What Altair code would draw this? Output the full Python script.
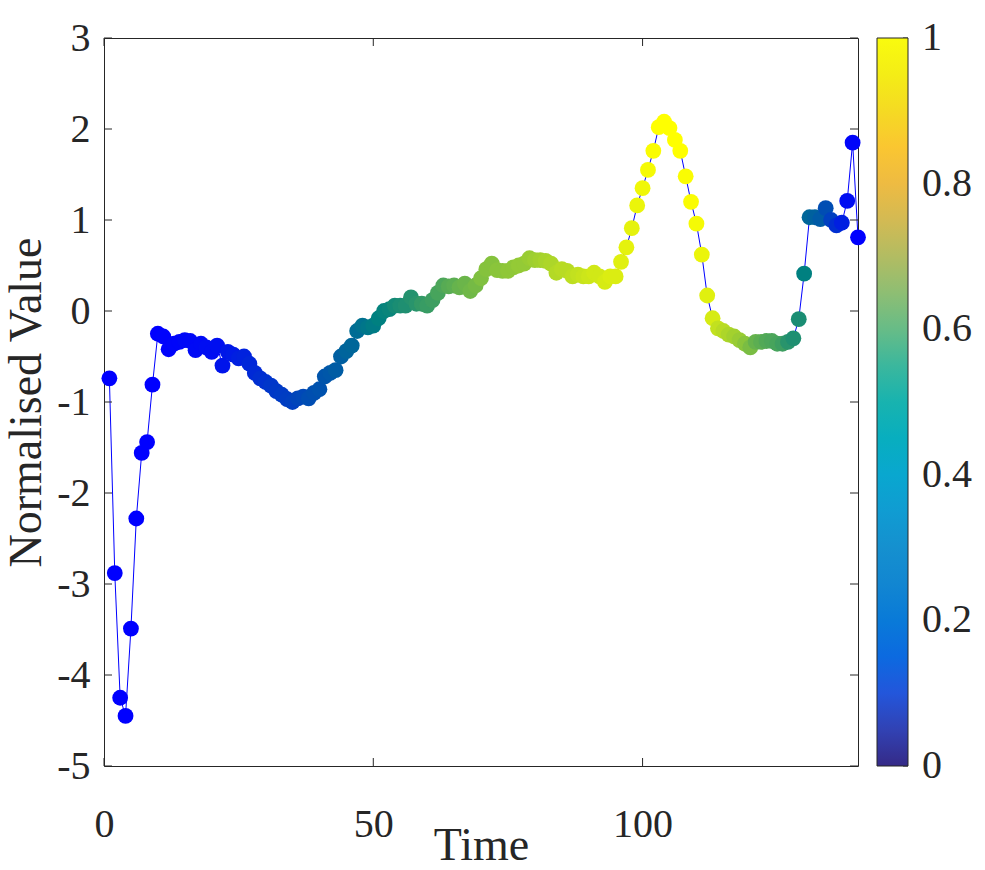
import altair as alt
import pandas as pd

# Time index of each observation
time = list(range(1, 141))

# Normalised observation at each time step
value = [
    -0.74, -2.88, -4.25, -4.45, -3.49, -2.28, -1.56, -1.44, -0.81, -0.25,
    -0.28, -0.42, -0.36, -0.34, -0.32, -0.33, -0.43, -0.36, -0.40, -0.45,
    -0.38, -0.60, -0.45, -0.48, -0.52, -0.50, -0.58, -0.68, -0.74, -0.78,
    -0.82, -0.88, -0.92, -0.97, -1.00, -0.96, -0.94, -0.96, -0.90, -0.86,
    -0.72, -0.68, -0.65, -0.50, -0.44, -0.38, -0.22, -0.16, -0.18, -0.16,
    -0.08, 0.00, 0.02, 0.06, 0.06, 0.06, 0.15, 0.08, 0.08, 0.06,
    0.12, 0.20, 0.28, 0.27, 0.28, 0.26, 0.30, 0.22, 0.28, 0.36,
    0.46, 0.52, 0.45, 0.44, 0.44, 0.48, 0.50, 0.52, 0.58, 0.56,
    0.56, 0.55, 0.52, 0.42, 0.46, 0.44, 0.38, 0.40, 0.38, 0.38,
    0.42, 0.38, 0.32, 0.38, 0.38, 0.54, 0.70, 0.91, 1.16, 1.35,
    1.55, 1.76, 2.02, 2.08, 2.01, 1.88, 1.76, 1.48, 1.20, 0.96,
    0.62, 0.17, -0.08, -0.19, -0.22, -0.26, -0.28, -0.32, -0.36, -0.40,
    -0.34, -0.34, -0.33, -0.33, -0.36, -0.36, -0.34, -0.30, -0.09, 0.41,
    1.03, 1.03, 1.01, 1.13, 1.00, 0.94, 0.97, 1.21, 1.85, 0.81,
]

# Per-point level in [0, 1] that sets each marker's colour
level = [
    0.00, 0.00, 0.00, 0.00, 0.00, 0.00, 0.00, 0.00, 0.00, 0.00,
    0.01, 0.01, 0.02, 0.02, 0.03, 0.03, 0.04, 0.04, 0.05, 0.05,
    0.06, 0.08, 0.09, 0.10, 0.12, 0.13, 0.15, 0.16, 0.18, 0.19,
    0.21, 0.22, 0.23, 0.24, 0.25, 0.27, 0.28, 0.30, 0.31, 0.32,
    0.33, 0.34, 0.36, 0.37, 0.39, 0.40, 0.42, 0.44, 0.46, 0.48,
    0.50, 0.51, 0.52, 0.54, 0.55, 0.56, 0.57, 0.58, 0.60, 0.61,
    0.62, 0.64, 0.65, 0.67, 0.68, 0.70, 0.71, 0.72, 0.73, 0.75,
    0.76, 0.76, 0.77, 0.77, 0.78, 0.78, 0.79, 0.79, 0.80, 0.81,
    0.82, 0.83, 0.84, 0.85, 0.86, 0.86, 0.87, 0.88, 0.89, 0.90,
    0.91, 0.91, 0.92, 0.93, 0.93, 0.94, 0.95, 0.95, 0.96, 0.97,
    0.98, 0.99, 1.00, 1.00, 1.00, 1.00, 1.00, 0.99, 0.99, 0.98,
    0.96, 0.94, 0.92, 0.88, 0.86, 0.84, 0.82, 0.80, 0.77, 0.74,
    0.70, 0.68, 0.66, 0.65, 0.64, 0.62, 0.58, 0.56, 0.55, 0.50,
    0.40, 0.38, 0.35, 0.30, 0.25, 0.18, 0.12, 0.05, 0.02, 0.00,
]

# Tick positions on the axes and the colour bar
x_ticks = [0, 50, 100]
y_ticks = [-5, -4, -3, -2, -1, 0, 1, 2, 3]
bar_ticks = [0, 0.2, 0.4, 0.6, 0.8, 1]
bar_tick_labels = ["0", "0.2", "0.4", "0.6", "0.8", "1"]
bar_ends = [0, 1]

# Parula colour map stops for the colour bar
PARULA = [
    "#352a87", "#3145b9", "#1f5ae3", "#0471de", "#0d80d4", "#168bcd",
    "#1398d2", "#0aa5d2", "#06adc1", "#18b3af", "#3fb79b", "#71bd82",
    "#9bbe6c", "#c1bb5b", "#e4b84a", "#fcbf36", "#f6d526", "#f3ec17",
    "#f9fb0e",
]

FONT = "Liberation Serif"
INK = "#262626"
W, H = 754, 728
TICK = 8
BAR_X, BAR_W = W + 19, 31

# Hyphen-minus labels, as in the printed figure
SIGNED = "datum.value < 0 ? '-' + abs(datum.value) : '' + datum.value"

df = pd.DataFrame({"time": time, "value": value, "level": level})
xt = pd.DataFrame({"t": x_ticks})
yt = pd.DataFrame({"v": y_ticks})
bar = pd.DataFrame({"p": bar_ends})
bt = pd.DataFrame({"p": bar_ticks, "label": bar_tick_labels})

x_scale = alt.Scale(domain=[0, 140], nice=False, zero=False)
y_scale = alt.Scale(domain=[-5, 3], nice=False, zero=False)
bar_scale = alt.Scale(domain=[0, 1], nice=False, zero=False)

x_enc = alt.X(
    "time:Q", scale=x_scale, title="Time",
    axis=alt.Axis(values=x_ticks, ticks=False, domain=False, grid=False,
                  labelPadding=38, labelExpr=SIGNED, labelFlush=False,
                  titleX=W / 2, titleY=93, titleBaseline="alphabetic",
                  titleAlign="center"),
)
y_enc = alt.Y(
    "value:Q", scale=y_scale, title="Normalised Value",
    axis=alt.Axis(values=y_ticks, ticks=False, domain=False, grid=False,
                  labelPadding=14, labelExpr=SIGNED, labelFlush=False,
                  titleX=-64, titleY=H / 2, titleAngle=-90,
                  titleBaseline="alphabetic", titleAlign="center"),
)

line = alt.Chart(df).mark_line(color="#0000ff", strokeWidth=1).encode(
    x=x_enc, y=y_enc, order="time:Q"
)

points = alt.Chart(df).mark_circle(size=250, opacity=1).encode(
    x=alt.X("time:Q", scale=x_scale),
    y=alt.Y("value:Q", scale=y_scale),
    color=alt.Color(
        "level:Q",
        scale=alt.Scale(domain=[0, 0.5, 1],
                        range=["#0000ff", "#008080", "#ffff00"],
                        interpolate="rgb"),
        legend=None,
    ),
)

# Inward-facing ticks on all four sides of the box
y_left = alt.Chart(yt).mark_rule(color=INK, strokeWidth=1).encode(
    y=alt.Y("v:Q", scale=y_scale), x=alt.value(0), x2=alt.value(TICK)
)
y_right = alt.Chart(yt).mark_rule(color=INK, strokeWidth=1).encode(
    y=alt.Y("v:Q", scale=y_scale), x=alt.value(W - TICK), x2=alt.value(W)
)
x_bottom = alt.Chart(xt).mark_rule(color=INK, strokeWidth=1).encode(
    x=alt.X("t:Q", scale=x_scale), y=alt.value(H - TICK), y2=alt.value(H)
)
x_top = alt.Chart(xt).mark_rule(color=INK, strokeWidth=1).encode(
    x=alt.X("t:Q", scale=x_scale), y=alt.value(0), y2=alt.value(TICK)
)

# Colour bar drawn as a gradient legend of an invisible layer
colorbar = alt.Chart(bar).mark_point(opacity=0).encode(
    x=alt.X("p:Q", scale=x_scale),
    y=alt.Y("p:Q", scale=y_scale),
    color=alt.Color(
        "p:Q",
        scale=alt.Scale(domain=[0, 1], range=PARULA, interpolate="rgb"),
        legend=alt.Legend(
            title=None, orient="none", legendX=BAR_X, legendY=0,
            direction="vertical", gradientLength=H, gradientThickness=BAR_W,
            values=bar_ticks, labelOpacity=0, gradientStrokeColor=INK,
            gradientStrokeWidth=1, padding=0,
        ),
    ),
)

main = alt.layer(
    line, points, y_left, y_right, x_bottom, x_top, colorbar
).resolve_scale(color="independent")

# Tick marks along the inner right edge of the colour bar, and its labels
bar_tick_marks = alt.Chart(bt).mark_rule(color=INK, strokeWidth=1).encode(
    y=alt.Y("p:Q", scale=bar_scale, axis=None),
    x=alt.value(BAR_X + BAR_W - 5),
    x2=alt.value(BAR_X + BAR_W),
)
bar_labels = alt.Chart(bt).mark_text(
    font=FONT, fontSize=40, color=INK, align="left", baseline="middle"
).encode(
    y=alt.Y("p:Q", scale=bar_scale, axis=None),
    x=alt.value(BAR_X + BAR_W + 14),
    text="label:N",
)
bar_guides = alt.layer(bar_tick_marks, bar_labels)

chart = (
    alt.layer(main, bar_guides)
    .resolve_scale(y="independent")
    .properties(
        width=W, height=H,
        autosize=alt.AutoSizeParams(type="none"),
        padding={"left": 104, "top": 38, "right": 127, "bottom": 104},
        background="white",
    )
    .configure_view(stroke=INK, strokeWidth=1)
    .configure_axis(
        labelFont=FONT, labelFontSize=40, labelColor=INK,
        titleFont=FONT, titleFontSize=46, titleColor=INK,
        titleFontWeight="normal",
    )
)

chart.save("out.html", embed_options={"renderer": "svg", "actions": False})
